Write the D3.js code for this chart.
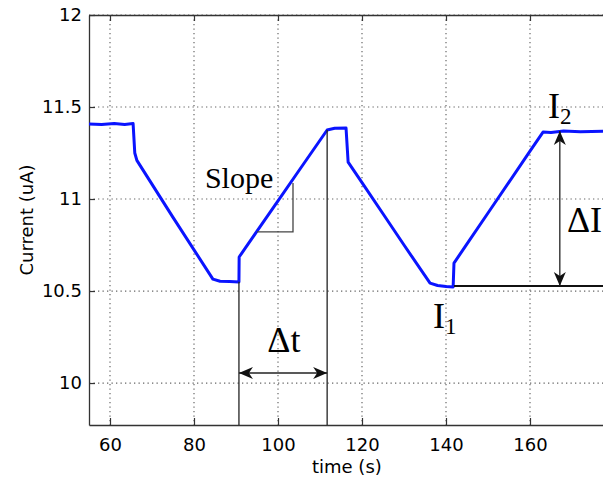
<!DOCTYPE html>
<html>
<head>
<meta charset="utf-8">
<script src="https://cdn.jsdelivr.net/npm/d3@7"></script>
<style>
  body { margin: 0; background: #fff; }
  svg { display: block; }
</style>
</head>
<body>
<div id="chart"></div>
<script>

// values
var timeS = [55, 58, 61, 63.5, 65.5, 65.9, 66.4, 75, 84.5, 86.2, 88.5, 90.7,
    90.75, 92, 95, 100, 105, 111.7, 113.5, 116.2, 116.7, 120, 125, 130, 136.2, 138, 140, 141.7,
    141.9, 145, 150, 155, 160, 163.1, 165, 168, 172, 178];
var currentUA = [11.408, 11.405, 11.41, 11.405, 11.41, 11.25, 11.21, 10.90, 10.565, 10.553, 10.552, 10.549,
    10.685, 10.726, 10.825, 10.99, 11.155, 11.375, 11.385, 11.386, 11.20, 11.089, 10.92, 10.75, 10.543, 10.53, 10.525, 10.522,
    10.652, 10.756, 10.924, 11.092, 11.26, 11.364, 11.362, 11.37, 11.365, 11.368];

var xTicks = [60, 80, 100, 120, 140, 160];
var yTicks = [10, 10.5, 11, 11.5, 12];
var yTickLabels = ["10", "10.5", "11", "11.5", "12"];

// annotation anchors (time, current)
var deltaT = [90.7, 111.7];
var deltaTLevel = 10.054;
var slopeRun = [95.0, 103.57];
var slopeRise = [10.821, 11.087];
var I1 = 10.527;
var I2 = 11.37;


CurrentChart = function(container){

    this.container = container;
    this.full_width = 603;
    this.full_height = 480;
    this.margin = {left: 89, top: 15, right: -11, bottom: 55};

    this._init();
};

CurrentChart.prototype._init = function(){

    this._build_graph();
    this._draw_grid();
    this._draw_axes();
    this._draw_line();
    this._draw_annotations();
};

CurrentChart.prototype._build_graph = function(){

    this.width = this.full_width - this.margin.left - this.margin.right;
    this.height = this.full_height - this.margin.top - this.margin.bottom;

    this.x = d3.scaleLinear().domain([55, 180]).range([0, this.width]);
    this.y = d3.scaleLinear().domain([9.772, 12]).range([this.height, 0]);

    this._svg = d3.select(this.container)
        .append("svg")
        .attr("width", this.full_width)
        .attr("height", this.full_height);

    var defs = this._svg.append("defs");
    defs.append("marker")
        .attr("id", "arrow")
        .attr("viewBox", "-14 -7 16 14")
        .attr("refX", 0)
        .attr("refY", 0)
        .attr("markerWidth", 16)
        .attr("markerHeight", 14)
        .attr("markerUnits", "userSpaceOnUse")
        .attr("orient", "auto-start-reverse")
        .append("path")
        .attr("d", "M0,0 L-14,-6 L-10,0 L-14,6 Z")
        .attr("fill", "#111");

    this._chart = this._svg.append("g")
        .attr("transform", "translate(" + this.margin.left + "," + this.margin.top + ")");
};

CurrentChart.prototype._draw_grid = function(){

    var self = this;
    var grid = this._chart.append("g")
        .attr("stroke", "#666")
        .attr("stroke-width", 1.2)
        .attr("stroke-dasharray", "1.3,3.2");

    grid.selectAll(".vgrid").data(xTicks).enter()
        .append("line")
        .attr("x1", function(d){ return self.x(d); })
        .attr("x2", function(d){ return self.x(d); })
        .attr("y1", 0)
        .attr("y2", this.height);

    grid.selectAll(".hgrid").data(yTicks).enter()
        .append("line")
        .attr("x1", 0)
        .attr("x2", this.width)
        .attr("y1", function(d){ return self.y(d); })
        .attr("y2", function(d){ return self.y(d); });
};

CurrentChart.prototype._draw_axes = function(){

    var self = this;
    var font = "'DejaVu Sans', sans-serif";

    var xAxis = d3.axisBottom(this.x).tickValues(xTicks).tickSizeInner(-7).tickSizeOuter(0).tickPadding(13);
    var xTop = d3.axisTop(this.x).tickValues(xTicks).tickSizeInner(-6).tickSizeOuter(0).tickFormat("");
    var yAxis = d3.axisLeft(this.y).tickValues(yTicks).tickSizeInner(-6).tickSizeOuter(0).tickPadding(7)
        .tickFormat(function(d, i){ return yTickLabels[i]; });

    var gx = this._chart.append("g").attr("transform", "translate(0," + this.height + ")").call(xAxis);
    var gt = this._chart.append("g").call(xTop);
    var gy = this._chart.append("g").call(yAxis);

    [gx, gt, gy].forEach(function(g){
        g.select(".domain").attr("stroke", "#333").attr("stroke-width", 1.3);
        g.selectAll(".tick line").attr("stroke", "#333").attr("stroke-width", 1.2);
        g.selectAll("text").attr("font-family", font).attr("font-size", 18).attr("fill", "#000");
    });

    this._chart.append("text")
        .attr("x", this.x(116.4))
        .attr("y", this.height + 48)
        .attr("text-anchor", "middle")
        .attr("font-family", font)
        .attr("font-size", 18)
        .attr("fill", "#000")
        .text("time (s)");

    this._chart.append("text")
        .attr("transform", "translate(" + (33 - this.margin.left) + "," + (205) + ") rotate(-90)")
        .attr("text-anchor", "middle")
        .attr("font-family", font)
        .attr("font-size", 18)
        .attr("fill", "#000")
        .text("Current (uA)");
};

CurrentChart.prototype._draw_line = function(){

    var self = this;
    var line = d3.line()
        .x(function(d){ return self.x(d[0]); })
        .y(function(d){ return self.y(d[1]); });

    this._chart.append("path")
        .datum(d3.zip(timeS, currentUA))
        .attr("fill", "none")
        .attr("stroke", "#0a14ff")
        .attr("stroke-width", 3)
        .attr("stroke-linejoin", "round")
        .attr("d", line);
};

CurrentChart.prototype._draw_annotations = function(){

    var self = this;
    var x = this.x, y = this.y;
    var ink = "#222";
    var serif = "'Liberation Serif', 'Times New Roman', serif";
    var a = this._chart.append("g");
    var bottom = y.domain()[0];

    // delta t
    a.append("line").attr("x1", x(deltaT[0])).attr("x2", x(deltaT[0]))
        .attr("y1", y(10.55)).attr("y2", y(bottom)).attr("stroke", ink).attr("stroke-width", 1.3);
    a.append("line").attr("x1", x(deltaT[1])).attr("x2", x(deltaT[1]))
        .attr("y1", y(11.375)).attr("y2", y(bottom)).attr("stroke", ink).attr("stroke-width", 1.3);
    a.append("line").attr("x1", x(deltaT[0])).attr("x2", x(deltaT[1]))
        .attr("y1", y(deltaTLevel)).attr("y2", y(deltaTLevel))
        .attr("stroke", ink).attr("stroke-width", 1.5)
        .attr("marker-start", "url(#arrow)").attr("marker-end", "url(#arrow)");
    a.append("text").attr("x", x(101.4)).attr("y", y(10.17))
        .attr("text-anchor", "middle").attr("font-family", serif).attr("font-size", 36)
        .attr("fill", "#000").text("\u0394t");

    // slope triangle
    a.append("polyline")
        .attr("points", [[x(slopeRun[0]), y(slopeRise[0])], [x(slopeRun[1]), y(slopeRise[0])], [x(slopeRun[1]), y(slopeRise[1])]].join(" "))
        .attr("fill", "none").attr("stroke", "#444").attr("stroke-width", 1.3);
    a.append("text").attr("x", x(82.6)).attr("y", y(11.06))
        .attr("font-family", serif).attr("font-size", 30).attr("fill", "#000").text("Slope");

    // delta I
    a.append("line").attr("x1", x(141.9)).attr("x2", x(178))
        .attr("y1", y(I1)).attr("y2", y(I1)).attr("stroke", "#111").attr("stroke-width", 2);
    a.append("line").attr("x1", x(167.1)).attr("x2", x(167.1))
        .attr("y1", y(I1)).attr("y2", y(I2))
        .attr("stroke", ink).attr("stroke-width", 1.3)
        .attr("marker-start", "url(#arrow)").attr("marker-end", "url(#arrow)");
    a.append("text").attr("x", x(168.8)).attr("y", y(10.82))
        .attr("font-family", serif).attr("font-size", 36).attr("fill", "#000").text("\u0394I");

    // I1, I2 labels
    var t1 = a.append("text").attr("x", x(136.9)).attr("y", y(10.30))
        .attr("font-family", serif).attr("font-size", 36).attr("fill", "#000");
    t1.append("tspan").text("I");
    t1.append("tspan").attr("font-size", 23).attr("dy", 6).text("1");

    var t2 = a.append("text").attr("x", x(164.3)).attr("y", y(11.44))
        .attr("font-family", serif).attr("font-size", 36).attr("fill", "#000");
    t2.append("tspan").text("I");
    t2.append("tspan").attr("font-size", 23).attr("dy", 6).text("2");
};

new CurrentChart("#chart");

</script>
</body>
</html>
